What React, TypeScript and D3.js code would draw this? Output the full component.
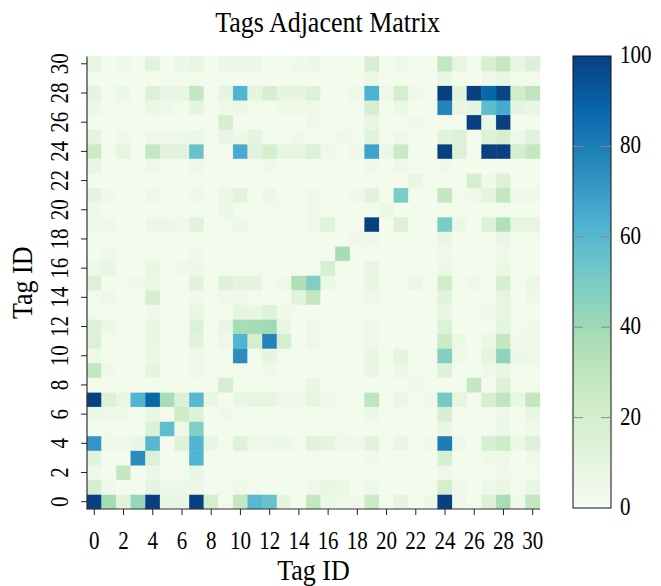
import React, { useRef, useEffect } from 'react';
import * as d3 from 'd3';

// tag ids on both axes
const tagIds = d3.range(31);
const xTicks = d3.range(0, 31, 2);
const yTicks = d3.range(0, 31, 2);
const colorTicks = [0, 20, 40, 60, 80, 100];

// co-occurrence counts, row = tag on y axis (0 first), col = tag on x axis
const adjacency = [
  [100, 38, 12, 42, 100, 8, 8, 100, 20, 3, 28, 60, 55, 10, 2, 28, 6, 5, 4, 25, 2, 10, 2, 6, 100, 5, 2, 15, 38, 4, 28],
  [20, 4, 2, 2, 10, 5, 5, 6, 3, 3, 4, 3, 2, 2, 2, 4, 8, 6, 2, 5, 2, 2, 2, 3, 20, 4, 2, 5, 8, 3, 8],
  [5, 3, 28, 2, 6, 2, 3, 8, 2, 2, 2, 2, 2, 2, 2, 3, 3, 2, 2, 3, 2, 2, 2, 2, 5, 3, 2, 3, 4, 2, 3],
  [12, 2, 2, 75, 15, 2, 3, 62, 2, 2, 2, 2, 2, 2, 2, 3, 2, 2, 2, 4, 2, 2, 2, 2, 18, 2, 2, 4, 5, 2, 5],
  [72, 4, 4, 8, 60, 2, 14, 62, 8, 2, 14, 5, 5, 6, 3, 12, 10, 4, 4, 12, 2, 8, 2, 4, 80, 5, 2, 18, 24, 6, 15],
  [3, 3, 2, 2, 15, 58, 5, 48, 2, 2, 2, 2, 2, 2, 2, 2, 3, 3, 2, 2, 2, 2, 2, 2, 8, 2, 2, 3, 6, 2, 4],
  [6, 5, 4, 3, 8, 3, 24, 14, 2, 4, 3, 2, 2, 2, 2, 2, 2, 2, 2, 6, 2, 2, 2, 2, 18, 2, 2, 3, 5, 2, 8],
  [100, 15, 8, 62, 88, 38, 15, 60, 8, 2, 8, 10, 10, 5, 4, 10, 4, 2, 2, 30, 2, 7, 2, 4, 52, 10, 2, 18, 30, 8, 28],
  [2, 2, 2, 2, 2, 2, 2, 2, 2, 20, 2, 2, 2, 2, 2, 8, 2, 2, 2, 2, 2, 2, 4, 2, 2, 2, 28, 2, 15, 2, 3],
  [28, 4, 2, 2, 10, 2, 2, 5, 3, 3, 3, 2, 4, 2, 2, 2, 2, 2, 2, 8, 2, 6, 2, 2, 14, 2, 2, 4, 8, 3, 3],
  [5, 2, 2, 3, 6, 2, 2, 5, 2, 3, 75, 2, 10, 3, 2, 3, 2, 2, 2, 8, 2, 10, 2, 2, 48, 4, 2, 10, 45, 6, 5],
  [15, 2, 2, 2, 8, 2, 2, 12, 2, 5, 62, 20, 78, 18, 2, 5, 2, 2, 2, 5, 2, 2, 2, 2, 25, 6, 2, 6, 28, 4, 4],
  [15, 6, 2, 2, 8, 3, 3, 15, 2, 8, 38, 38, 40, 8, 2, 5, 2, 2, 2, 5, 2, 2, 2, 2, 15, 2, 2, 3, 10, 3, 4],
  [3, 3, 2, 2, 4, 2, 2, 8, 2, 3, 10, 8, 14, 4, 2, 2, 2, 2, 2, 2, 2, 2, 2, 2, 8, 2, 2, 4, 10, 2, 2],
  [3, 5, 2, 3, 18, 2, 2, 4, 2, 4, 4, 3, 2, 2, 12, 28, 2, 2, 2, 5, 3, 2, 2, 3, 12, 2, 2, 2, 10, 2, 5],
  [15, 2, 3, 4, 6, 3, 2, 12, 2, 14, 10, 10, 3, 4, 35, 48, 6, 2, 2, 8, 2, 2, 6, 2, 22, 2, 5, 3, 18, 3, 6],
  [5, 8, 2, 2, 8, 2, 4, 6, 2, 2, 2, 3, 2, 2, 2, 3, 18, 2, 2, 8, 2, 2, 2, 2, 6, 2, 2, 3, 6, 3, 2],
  [2, 5, 2, 2, 3, 2, 2, 4, 2, 2, 2, 2, 2, 2, 2, 2, 2, 38, 2, 2, 2, 2, 2, 2, 4, 2, 2, 2, 4, 2, 2],
  [2, 2, 2, 2, 2, 2, 2, 2, 2, 2, 2, 2, 2, 2, 2, 3, 2, 2, 4, 4, 2, 2, 2, 2, 8, 2, 2, 2, 8, 2, 3],
  [5, 5, 2, 2, 6, 6, 4, 12, 2, 3, 6, 2, 2, 2, 3, 5, 12, 2, 2, 100, 2, 15, 2, 2, 50, 6, 2, 15, 35, 10, 10],
  [4, 2, 2, 2, 2, 2, 2, 2, 2, 6, 2, 3, 3, 3, 3, 5, 2, 2, 2, 3, 6, 2, 2, 2, 3, 2, 2, 2, 3, 2, 2],
  [10, 4, 2, 2, 5, 2, 2, 5, 2, 6, 12, 2, 6, 2, 2, 4, 2, 2, 4, 12, 2, 50, 2, 3, 28, 3, 4, 10, 28, 4, 4],
  [2, 2, 2, 2, 2, 2, 2, 2, 2, 2, 2, 2, 2, 2, 2, 2, 2, 2, 2, 2, 2, 2, 8, 2, 2, 2, 20, 4, 15, 2, 2],
  [8, 2, 2, 2, 5, 2, 2, 5, 2, 3, 2, 2, 4, 2, 2, 2, 2, 2, 2, 4, 2, 5, 2, 3, 4, 2, 2, 2, 2, 2, 2],
  [25, 3, 10, 2, 28, 12, 12, 55, 2, 3, 65, 12, 20, 10, 10, 15, 5, 2, 4, 68, 6, 26, 2, 2, 100, 15, 2, 100, 100, 20, 28],
  [10, 2, 4, 2, 5, 5, 5, 6, 2, 8, 5, 10, 2, 3, 4, 3, 2, 4, 3, 12, 2, 5, 2, 2, 12, 15, 2, 14, 18, 5, 12],
  [2, 2, 2, 2, 2, 2, 2, 2, 2, 18, 2, 2, 3, 2, 2, 5, 2, 2, 2, 8, 3, 2, 4, 2, 3, 2, 100, 8, 100, 2, 3],
  [6, 3, 3, 3, 6, 5, 3, 10, 2, 4, 6, 3, 2, 4, 4, 4, 2, 2, 3, 18, 2, 6, 2, 2, 78, 8, 10, 58, 65, 10, 8],
  [10, 3, 6, 2, 15, 8, 8, 28, 2, 10, 62, 10, 18, 10, 10, 15, 2, 3, 5, 63, 5, 20, 4, 2, 100, 12, 100, 88, 98, 22, 30],
  [2, 2, 2, 2, 2, 2, 2, 3, 2, 2, 2, 2, 2, 2, 2, 2, 2, 2, 2, 6, 2, 2, 2, 2, 8, 2, 2, 5, 8, 3, 3],
  [10, 2, 4, 2, 12, 2, 6, 10, 2, 6, 8, 6, 2, 3, 4, 6, 3, 2, 2, 18, 2, 5, 2, 2, 28, 10, 2, 18, 28, 8, 15],
];

const GNBU = ['#f7fcf0', '#e0f3db', '#ccebc5', '#a8ddb5', '#7bccc4', '#4eb3d3', '#2b8cbe', '#0868ac', '#084081'];
const FONT = '"Liberation Serif", "DejaVu Serif", serif';
const STRETCH = 1.15; // text in the original is a bit taller than wide

export default function App() {
  const ref = useRef(null);

  useEffect(() => {
    const svg = d3.select(ref.current);
    svg.selectAll('*').remove();

    const left = 87, right = 540, top = 56.5, bottom = 509;

    const x = d3.scaleBand().domain(tagIds).range([left, right]);
    const y = d3.scaleBand().domain(tagIds).range([bottom, top]);
    const color = d3.scaleLinear()
      .domain(GNBU.map((_, i) => (i * 100) / (GNBU.length - 1)))
      .range(GNBU)
      .interpolate(d3.interpolateRgb)
      .clamp(true);

    const cells = adjacency.flatMap((row, j) => row.map((v, i) => ({ i, j, v })));

    svg.append('g')
      .selectAll('rect')
      .data(cells)
      .enter().append('rect')
        .attr('x', d => x(d.i))
        .attr('y', d => y(d.j))
        .attr('width', x.bandwidth())
        .attr('height', y.bandwidth())
        .attr('fill', d => color(d.v))
        .attr('stroke', d => color(d.v))
        .attr('stroke-width', 0.4);

    // axis lines
    svg.append('line')
      .attr('x1', left).attr('x2', left).attr('y1', top).attr('y2', bottom + 0.5)
      .attr('stroke', '#333').attr('stroke-width', 1.2);
    svg.append('line')
      .attr('x1', left).attr('x2', right).attr('y1', bottom).attr('y2', bottom)
      .attr('stroke', '#333').attr('stroke-width', 1.2);

    const half = x.bandwidth() / 2;

    // x ticks + labels
    const xt = svg.append('g');
    xt.selectAll('line').data(xTicks).enter().append('line')
      .attr('x1', d => x(d) + half).attr('x2', d => x(d) + half)
      .attr('y1', bottom).attr('y2', bottom + 6)
      .attr('stroke', '#222').attr('stroke-width', 1);
    xt.selectAll('text').data(xTicks).enter().append('text')
      .attr('transform', d => `translate(${x(d) + half},${549}) scale(1,${STRETCH})`)
      .attr('text-anchor', 'middle')
      .style('font-family', FONT)
      .style('font-size', '21px')
      .text(d => d);

    // y ticks + labels (rotated)
    const yt = svg.append('g');
    yt.selectAll('line').data(yTicks).enter().append('line')
      .attr('x1', left - 6).attr('x2', left)
      .attr('y1', d => y(d) + half).attr('y2', d => y(d) + half)
      .attr('stroke', '#222').attr('stroke-width', 1);
    yt.selectAll('text').data(yTicks).enter().append('text')
      .attr('transform', d => `translate(${68},${y(d) + half}) scale(${STRETCH},1) rotate(-90)`)
      .attr('text-anchor', 'middle')
      .style('font-family', FONT)
      .style('font-size', '21px')
      .text(d => d);

    // title and axis titles
    svg.append('text')
      .attr('transform', `translate(${(left + right) / 2 + 14},32) scale(1,${STRETCH})`)
      .attr('text-anchor', 'middle')
      .style('font-family', FONT)
      .style('font-size', '26px')
      .text('Tags Adjacent Matrix');
    svg.append('text')
      .attr('transform', `translate(${(left + right) / 2},580) scale(1,${STRETCH})`)
      .attr('text-anchor', 'middle')
      .style('font-family', FONT)
      .style('font-size', '26px')
      .text('Tag ID');
    svg.append('text')
      .attr('transform', `translate(32,${(top + bottom) / 2}) scale(${STRETCH},1) rotate(-90)`)
      .attr('text-anchor', 'middle')
      .style('font-family', FONT)
      .style('font-size', '26px')
      .text('Tag ID');

    // colorbar
    const cbX = 573, cbW = 38;
    const cbY = d3.scaleLinear().domain([0, 100]).range([508, 56]);
    const grad = svg.append('defs').append('linearGradient')
      .attr('id', 'gnbu').attr('x1', 0).attr('y1', 1).attr('x2', 0).attr('y2', 0);
    grad.selectAll('stop').data(GNBU).enter().append('stop')
      .attr('offset', (_, i) => i / (GNBU.length - 1))
      .attr('stop-color', d => d);
    svg.append('rect')
      .attr('x', cbX).attr('y', cbY(100))
      .attr('width', cbW).attr('height', cbY(0) - cbY(100))
      .attr('fill', 'url(#gnbu)')
      .attr('stroke', '#111').attr('stroke-width', 1);
    const inner = colorTicks.filter(t => t > 0 && t < 100);
    const cb = svg.append('g');
    cb.selectAll('line.l').data(inner).enter().append('line')
      .attr('x1', cbX).attr('x2', cbX + 10)
      .attr('y1', d => cbY(d)).attr('y2', d => cbY(d))
      .attr('stroke', '#888').attr('stroke-width', 1);
    cb.selectAll('line.r').data(inner).enter().append('line')
      .attr('x1', cbX + cbW - 10).attr('x2', cbX + cbW)
      .attr('y1', d => cbY(d)).attr('y2', d => cbY(d))
      .attr('stroke', '#888').attr('stroke-width', 1);
    cb.selectAll('text').data(colorTicks).enter().append('text')
      .attr('transform', d => `translate(${620},${cbY(d) + 7}) scale(1,${STRETCH})`)
      .style('font-family', FONT)
      .style('font-size', '21px')
      .text(d => d);
  }, []);

  return (
    <svg ref={ref} width={661} height={586}
      style={{ position: 'absolute', left: 0, top: 0, background: 'white' }} />
  );
}
